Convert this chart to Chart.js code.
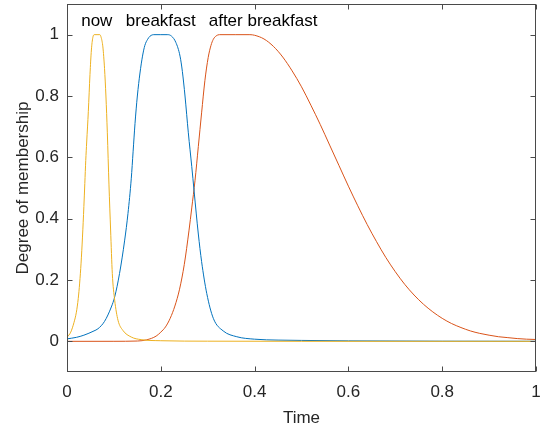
<!DOCTYPE html>
<html>
<head>
<meta charset="utf-8">
<script src="https://cdn.jsdelivr.net/npm/chart.js@4/dist/chart.umd.min.js"></script>
<style>
  html, body { margin: 0; padding: 0; background: #fff; }
  canvas { display: block; }
</style>
</head>
<body>
<canvas id="c" width="542" height="430"></canvas>
<script>
// ---- data ----
const nowX = [0,0.008,0.015,0.020,0.024,0.027,0.030,0.033,0.036,0.038,0.040,0.042,0.0455,0.049,0.052,0.055,0.058,0.064,0.070,0.073,0.0765,0.080,0.083,0.086,0.0895,0.093,0.0966,0.1017,0.1087,0.119,0.137,0.158,0.2,0.3,0.5,1];
const nowY = [0.013,0.03,0.062,0.095,0.14,0.19,0.255,0.34,0.44,0.515,0.59,0.65,0.75,0.87,0.95,0.99,1,1,1,0.99,0.96,0.89,0.80,0.68,0.51,0.363,0.221,0.134,0.069,0.036,0.014,0.0055,0.002,0.0005,0.0001,0];

const breakfastX = [0,0.02,0.036,0.0576,0.066,0.08,0.0945,0.1017,0.112,0.123,0.130,0.137,0.141,0.145,0.150,0.1556,0.161,0.166,0.172,0.177,0.185,0.2,0.215,0.223,0.232,0.241,0.246,0.2516,0.2587,0.266,0.271,0.28,0.287,0.298,0.312,0.333,0.362,0.40,0.45,0.5,0.6,0.8,1];
const breakfastY = [0.008,0.013,0.02,0.034,0.041,0.065,0.112,0.145,0.221,0.33,0.417,0.53,0.62,0.71,0.80,0.875,0.93,0.965,0.985,0.995,1,1,1,0.995,0.975,0.93,0.88,0.80,0.68,0.57,0.49,0.35,0.26,0.156,0.075,0.034,0.015,0.007,0.004,0.003,0.0015,0.0005,0.0002];

const afterX = [0,0.10,0.15,0.17,0.19,0.20,0.21,0.22,0.23,0.24,0.25,0.26,0.266,0.273,0.28,0.287,0.294,0.301,0.307,0.312,0.318,0.325,0.36,0.39,0.40,0.42,0.44,0.46,0.48,0.50,0.52,0.54,0.56,0.58,0.60,0.62,0.64,0.66,0.68,0.70,0.72,0.74,0.76,0.78,0.80,0.82,0.84,0.86,0.88,0.90,0.92,0.94,0.96,0.98,1];
const afterY = [0,0.0001,0.001,0.005,0.017,0.03,0.047,0.075,0.115,0.17,0.25,0.36,0.435,0.525,0.635,0.745,0.85,0.925,0.965,0.985,0.996,1,1,1,0.998,0.986,0.962,0.927,0.882,0.83,0.77,0.707,0.64,0.573,0.506,0.442,0.381,0.325,0.273,0.227,0.186,0.151,0.121,0.096,0.075,0.058,0.045,0.034,0.026,0.02,0.015,0.012,0.009,0.007,0.006];

const seriesNames = ["now", "breakfast", "after breakfast"];
const labelX = [0.0635, 0.2, 0.418];
const labelY = [1.027, 1.027, 1.027];

const xTicks = [0, 0.2, 0.4, 0.6, 0.8, 1];
const yTicks = [0, 0.2, 0.4, 0.6, 0.8, 1];
const xTitle = "Time";
const yTitle = "Degree of membership";

// ---- build ----
const pts = (xs, ys) => xs.map((x, i) => ({ x: x, y: ys[i] }));
const FONT = "'Liberation Sans', Arial, Helvetica, sans-serif";
const TXT = '#262626';
const AX = '#4a4a4a';

const boxPlugin = {
  id: 'box',
  afterDatasetsDraw(chart) {
    const { ctx, chartArea: a, scales } = chart;
    ctx.save();
    ctx.strokeStyle = AX;
    ctx.lineWidth = 1;
    const L = Math.round(a.left) + 0.5, R = Math.round(a.right) - 0.5;
    const T = Math.round(a.top) + 0.5, B = Math.round(a.bottom) - 0.5;
    ctx.strokeRect(L, T, R - L, B - T);
    const tl = 5;
    ctx.beginPath();
    xTicks.forEach(v => {
      const px = Math.round(scales.x.getPixelForValue(v)) + 0.5;
      ctx.moveTo(px, B); ctx.lineTo(px, B - tl);
      ctx.moveTo(px, T); ctx.lineTo(px, T + tl);
    });
    yTicks.forEach(v => {
      const py = Math.round(scales.y.getPixelForValue(v)) + 0.5;
      ctx.moveTo(L, py); ctx.lineTo(L + tl, py);
      ctx.moveTo(R, py); ctx.lineTo(R - tl, py);
    });
    ctx.stroke();
    // series names
    ctx.fillStyle = '#000';
    ctx.font = '17px ' + FONT;
    ctx.textAlign = 'center';
    ctx.textBaseline = 'alphabetic';
    seriesNames.forEach((s, i) => {
      ctx.fillText(s, scales.x.getPixelForValue(labelX[i]), scales.y.getPixelForValue(labelY[i]));
    });
    ctx.restore();
  }
};

new Chart(document.getElementById('c'), {
  type: 'line',
  data: {
    datasets: [
      { label: seriesNames[0], data: pts(nowX, nowY), borderColor: '#EDB120' },
      { label: seriesNames[1], data: pts(breakfastX, breakfastY), borderColor: '#0072BD' },
      { label: seriesNames[2], data: pts(afterX, afterY), borderColor: '#D95319' }
    ]
  },
  options: {
    responsive: false,
    animation: false,
    devicePixelRatio: 1,
    layout: { padding: { top: 4, right: 6, left: 0, bottom: 0 } },
    elements: {
      line: { borderWidth: 1, cubicInterpolationMode: 'monotone', fill: false },
      point: { radius: 0, hoverRadius: 0 }
    },
    plugins: { legend: { display: false }, tooltip: { enabled: false } },
    scales: {
      x: {
        type: 'linear', min: 0, max: 1,
        afterBuildTicks: s => { s.ticks = xTicks.map(v => ({ value: v })); },
        afterFit: s => { s.height = 58; s.paddingLeft = 0; s.paddingRight = 0; },
        grid: { display: false, drawTicks: false },
        border: { display: false },
        ticks: { color: TXT, font: { family: FONT, size: 17 }, padding: 10, maxRotation: 0,
                 callback: v => String(v) },
        title: { display: true, text: xTitle, color: TXT, font: { family: FONT, size: 17 }, padding: { top: 0, bottom: 1 } }
      },
      y: {
        type: 'linear', min: -0.1, max: 1.1,
        afterBuildTicks: s => { s.ticks = yTicks.map(v => ({ value: v })); },
        afterFit: s => { s.width = 67; s.paddingTop = 0; s.paddingBottom = 0; },
        grid: { display: false, drawTicks: false },
        border: { display: false },
        ticks: { color: TXT, font: { family: FONT, size: 17 }, padding: 8,
                 callback: v => String(v) },
        title: { display: true, text: yTitle, color: TXT, font: { family: FONT, size: 17 }, padding: { top: 13, bottom: 4 } }
      }
    }
  },
  plugins: [boxPlugin]
});
</script>
</body>
</html>
